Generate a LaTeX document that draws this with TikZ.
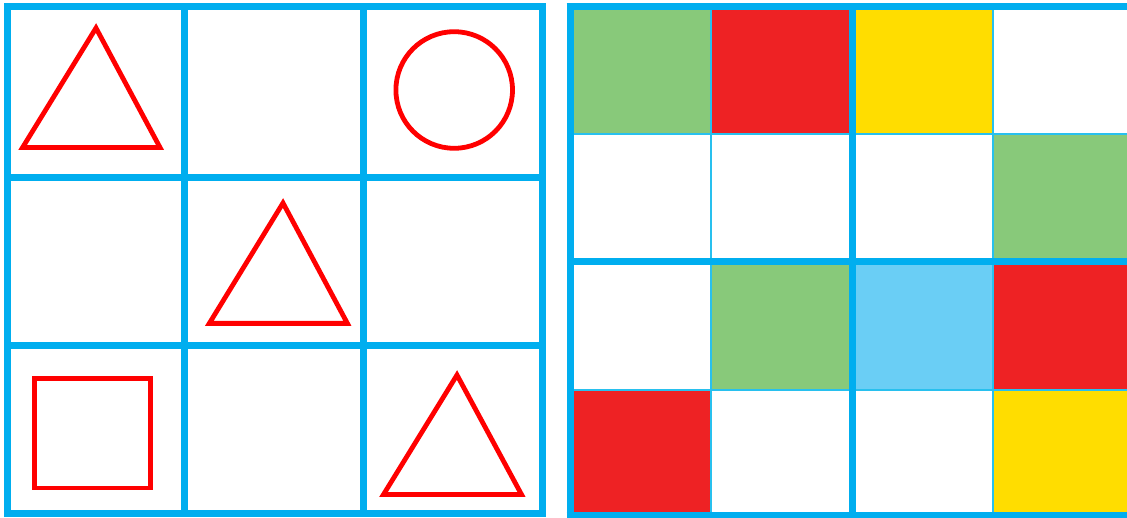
\documentclass[tikz,border=0pt]{standalone}
\definecolor{gridblue}{RGB}{0,174,239}
\definecolor{thinblue}{RGB}{40,192,238}
\definecolor{cgreen}{RGB}{136,201,122}
\definecolor{cred}{RGB}{238,34,36}
\definecolor{cyellow}{RGB}{255,221,0}
\definecolor{clblue}{RGB}{106,206,245}
\definecolor{shapered}{RGB}{255,0,0}
\tikzset{
  thick line/.style={draw=gridblue, line width=7pt},
  thin line/.style={draw=thinblue, line width=2.5pt},
  redshape/.style={draw=shapered, line width=4.8pt, line join=miter},
}
\begin{document}
\begin{tikzpicture}[x=1pt,y=-1pt]
\useasboundingbox (0,0) rectangle (1127,518);
\clip (0,0) rectangle (1127,518);
% ---------- left grid ----------
\draw[thick line] (184,7) -- (184,513.5);
\draw[thick line] (363,7) -- (363,513.5);
\draw[thick line] (7.5,177.5) -- (542,177.5);
\draw[thick line] (7.5,346) -- (542,346);
\draw[thick line] (7.5,7) rectangle (542,513.5);
% shapes
\draw[redshape] (96,28) -- (160,147.5) -- (22.6,147.5) -- cycle;
\draw[redshape] (283,203) -- (347.4,323.4) -- (209.3,323.4) -- cycle;
\draw[redshape] (457,375) -- (521.5,494.5) -- (383.5,494.5) -- cycle;
\draw[redshape] (454.2,90) circle (58.3);
\draw[redshape] (34.2,378.8) rectangle (150.8,488);
% ---------- right grid ----------
% row 1
\fill[cgreen]  (570,7) rectangle (711,134);
\fill[cred]    (711,7) rectangle (852,134);
\fill[cyellow] (852,7) rectangle (993,134);
% row 2
\fill[cgreen]  (993,134) rectangle (1134,262);
% row 3
\fill[cgreen]  (711,262) rectangle (852,390);
\fill[clblue]  (852,262) rectangle (993,390);
\fill[cred]    (993,262) rectangle (1134,390);
% row 4
\fill[cred]    (570,390) rectangle (711,515);
\fill[cyellow] (993,390) rectangle (1134,515);
% thin lines
\draw[thin line] (711,7) -- (711,515);
\draw[thin line] (993,7) -- (993,515);
\draw[thin line] (570,134) -- (1134,134);
\draw[thin line] (570,390) -- (1134,390);
% thick lines
\draw[thick line] (852,7) -- (852,515);
\draw[thick line] (570,262) -- (1134,262);
\draw[thick line] (566.5,7) -- (1134,7);
\draw[thick line] (566.5,515) -- (1134,515);
\draw[thick line] (570,3.5) -- (570,518.5);
\end{tikzpicture}
\end{document}
